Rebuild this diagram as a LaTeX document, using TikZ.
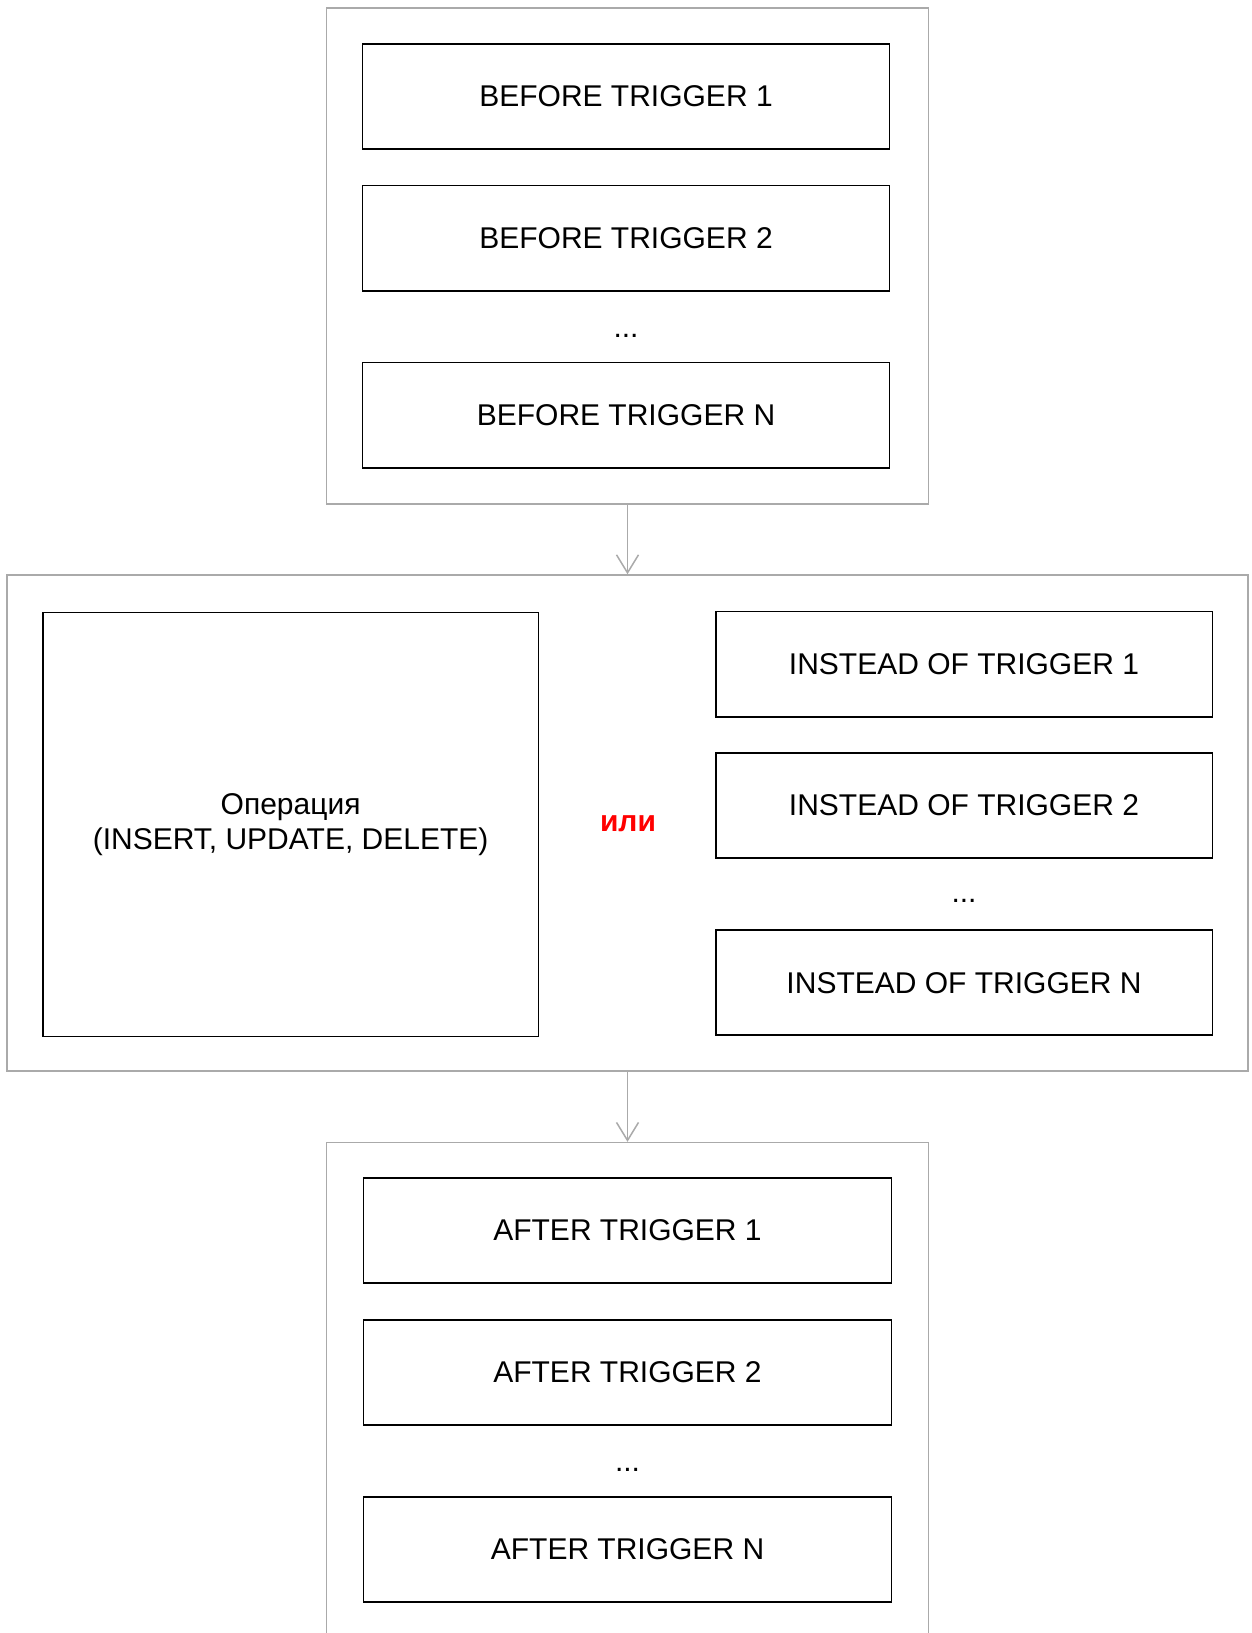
\documentclass[tikz,border=0pt]{standalone}
\usepackage{fontspec}
\setmainfont{Liberation Sans}
\usetikzlibrary{arrows.meta}
\definecolor{framegray}{HTML}{AAAAAA}
\definecolor{orred}{HTML}{FF0000}
\tikzset{
  pxunits/.style={x=0.5pt,y=-0.5pt},
  txt/.style={font=\fontsize{15}{17.25}\selectfont},
  trigbox/.style={draw=black, line width=0.9pt, rectangle, inner sep=0pt, txt},
  outerbox/.style={draw=framegray, line width=0.75pt, rectangle, inner sep=0pt},
  flow/.style={draw=framegray, line width=0.75pt, -{Straight Barb[length=9pt,width=11pt,line width=0.75pt]}},
}
\begin{document}
\begin{tikzpicture}[pxunits]
\useasboundingbox (0,0) rectangle (1252,1633);
\fill[white] (0,0) rectangle (1252,1633);

% top group
\node[outerbox, minimum width=301pt, minimum height=248pt] (topo) at (627.5,256) {};
\node[trigbox, minimum width=263.5pt, minimum height=52.6pt] (bt1) at (626,96.4) {BEFORE TRIGGER 1};
\node[trigbox, minimum width=263.5pt, minimum height=52.6pt] (bt2) at (626,238) {BEFORE TRIGGER 2};
\node[txt, anchor=base] (btd) at (626,337) {...};
\node[trigbox, minimum width=263.5pt, minimum height=52.6pt] (btn) at (626,415) {BEFORE TRIGGER N};

% middle group
\node[outerbox, minimum width=620.35pt, minimum height=248pt] (mido) at (627.5,823) {};
\node[trigbox, minimum width=247.9pt, minimum height=212pt, align=center] (op) at (290.6,824.5) {Операция\\(INSERT, UPDATE, DELETE)};
\node[txt, font=\fontsize{15}{17.25}\selectfont\bfseries, text=orred] (ili) at (628,824) {или};
\node[trigbox, minimum width=248.4pt, minimum height=52.6pt] (it1) at (964,664) {INSTEAD OF TRIGGER 1};
\node[trigbox, minimum width=248.4pt, minimum height=52.6pt] (it2) at (964,805.5) {INSTEAD OF TRIGGER 2};
\node[txt, anchor=base] (itd) at (964,902) {...};
\node[trigbox, minimum width=248.4pt, minimum height=52.6pt] (itn) at (964,982.7) {INSTEAD OF TRIGGER N};

% bottom group
\node[outerbox, minimum width=301pt, minimum height=258.7pt] (boto) at (627.5,1401.3) {};
\node[trigbox, minimum width=264pt, minimum height=52.6pt] (at1) at (627.5,1230.5) {AFTER TRIGGER 1};
\node[trigbox, minimum width=264pt, minimum height=52.6pt] (at2) at (627.5,1372.4) {AFTER TRIGGER 2};
\node[txt, anchor=base] (atd) at (627.5,1471) {...};
\node[trigbox, minimum width=264pt, minimum height=52.6pt] (atn) at (627.5,1549.4) {AFTER TRIGGER N};

% connectors
\draw[flow] (topo.south) -- (mido.north);
\draw[flow] (mido.south) -- (boto.north);
\end{tikzpicture}
\end{document}
